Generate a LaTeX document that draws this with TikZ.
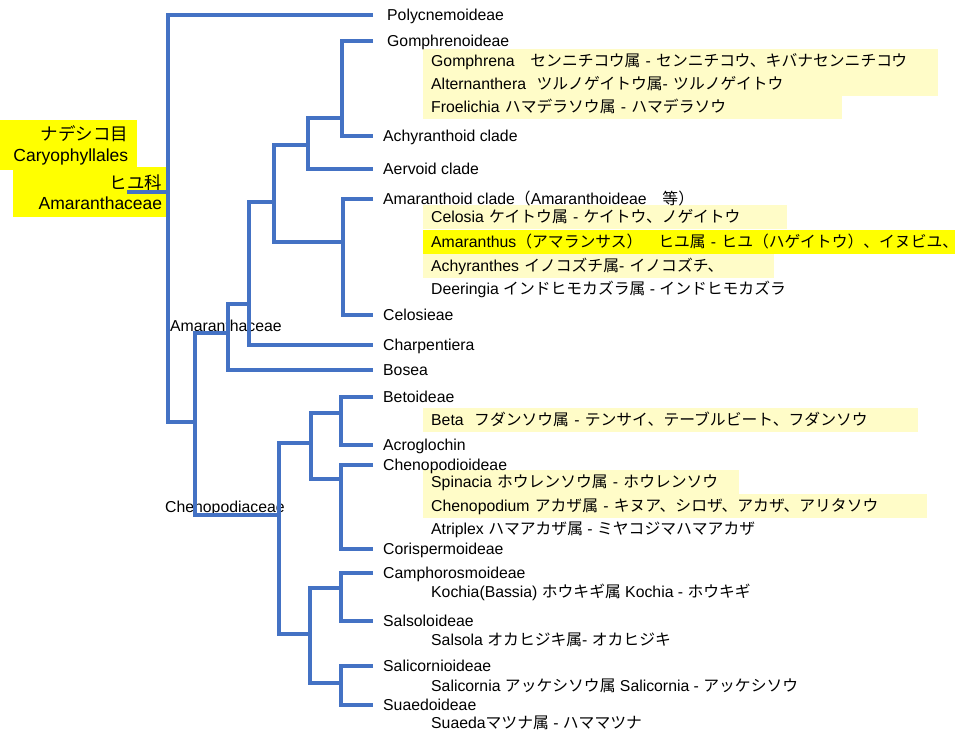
\documentclass[tikz,border=0pt]{standalone}
\usepackage{fontspec}
\setmainfont{Liberation Sans}
\newfontfamily\jpfont{Noto Sans CJK JP}
\newcommand{\jtxt}[1]{{\jpfont #1}}
\definecolor{clade}{HTML}{4472C4}
\definecolor{hilite}{HTML}{FFFCC8}
\definecolor{hiyel}{HTML}{FFFF00}

\begin{document}
\begin{tikzpicture}[x=1pt,y=-1pt]
  \tikzstyle{branch} = [draw=clade, line width=3.2pt]
  \tikzstyle{taxon} = [anchor=west, inner xsep=10pt, inner ysep=0pt, text height=11.5pt, text depth=0.5pt, font=\fontsize{15.8}{18}\selectfont]
  \tikzstyle{genus} = [taxon, inner xsep=8pt, inner ysep=6pt, align=left]
  \tikzstyle{pale} = [genus, fill=hilite]
  \tikzstyle{bright} = [genus, fill=hiyel]
  \tikzstyle{family} = [taxon, inner xsep=0pt]
  \tikzstyle{rank} = [anchor=north west, fill=hiyel, inner ysep=0pt, minimum height=50pt, align=right, font=\fontsize{17.5}{20.5}\selectfont]
  \useasboundingbox (0,0) rectangle (966,745);

  \node[rank, text width=119pt, inner xsep=9pt] (order) at (0,120) {\jtxt{ナデシコ目}\\Caryophyllales};
  \node[rank, text width=141pt, inner xsep=8pt] (fam) at (13,167) {\jtxt{ヒユ科}\\Amaranthaceae};

  \node[pale, text width=499pt] (gomphrena) at (423,61) {Gomphrena\jtxt{　センニチコウ属} - \jtxt{センニチコウ、キバナセンニチコウ}};
  \node[pale, text width=499pt] (alternanthera) at (423,84) {Alternanthera\ \ \jtxt{ツルノゲイトウ属}- \jtxt{ツルノゲイトウ}};
  \node[pale, text width=403pt] (froelichia) at (423,107) {Froelichia \jtxt{ハマデラソウ属} - \jtxt{ハマデラソウ}};
  \node[pale, text width=348pt] (celosia) at (423,217) {Celosia \jtxt{ケイトウ属} - \jtxt{ケイトウ、ノゲイトウ}};
  \node[bright, text width=516pt] (amaranthus) at (423,242) {\mbox{Amaranthus\jtxt{（アマランサス）　ヒユ属} - \jtxt{ヒユ（ハゲイトウ）、イヌビユ、}}};
  \node[pale, text width=335pt] (achyranthes) at (423,266) {Achyranthes \jtxt{イノコズチ属}- \jtxt{イノコズチ、}};
  \node[genus] (deeringia) at (423,289) {Deeringia \jtxt{インドヒモカズラ属} - \jtxt{インドヒモカズラ}};
  \node[pale, text width=479pt] (beta) at (423,420) {Beta\ \ \jtxt{フダンソウ属} - \jtxt{テンサイ、テーブルビート、フダンソウ}};
  \node[pale, text width=300pt] (spinacia) at (423,482) {Spinacia \jtxt{ホウレンソウ属} - \jtxt{ホウレンソウ}};
  \node[pale, text width=488pt] (chenopodium) at (423,506) {Chenopodium \jtxt{アカザ属} - \jtxt{キヌア、シロザ、アカザ、アリタソウ}};
  \node[genus] (atriplex) at (423,529) {Atriplex \jtxt{ハマアカザ属} - \jtxt{ミヤコジマハマアカザ}};
  \node[genus] (kochia) at (423,592) {Kochia(Bassia) \jtxt{ホウキギ属} Kochia - \jtxt{ホウキギ}};
  \node[genus] (salsola) at (423,640) {Salsola \jtxt{オカヒジキ属}- \jtxt{オカヒジキ}};
  \node[genus] (salicornia) at (423,686) {Salicornia \jtxt{アッケシソウ属} Salicornia - \jtxt{アッケシソウ}};
  \node[genus] (suaeda) at (423,723) {Suaeda\jtxt{マツナ属} - \jtxt{ハママツナ}};

  \node[taxon, inner xsep=14pt] (polyc) at (373,15) {Polycnemoideae};
  \node[taxon, inner xsep=14pt] (gomphr) at (373,41) {Gomphrenoideae};
  \node[taxon] (achyc) at (373,136) {Achyranthoid clade};
  \node[taxon] (aerv) at (373,169) {Aervoid clade};
  \node[taxon] (amthc) at (373,199) {Amaranthoid clade\jtxt{（}Amaranthoideae\jtxt{　等）}};
  \node[taxon] (celos) at (373,315) {Celosieae};
  \node[taxon] (charp) at (373,345) {Charpentiera};
  \node[taxon] (bosea) at (373,370) {Bosea};
  \node[taxon] (betoi) at (373,397) {Betoideae};
  \node[taxon] (acrog) at (373,445) {Acroglochin};
  \node[taxon] (cheno) at (373,465) {Chenopodioideae};
  \node[taxon] (corisp) at (373,549) {Corispermoideae};
  \node[taxon] (camph) at (373,573) {Camphorosmoideae};
  \node[taxon] (salso) at (373,621) {Salsoloideae};
  \node[taxon] (salic) at (373,666) {Salicornioideae};
  \node[taxon] (suaed) at (373,705) {Suaedoideae};

  \node[family] (amarlab) at (170,326) {Amaranthaceae};
  \node[family] (chenlab) at (165,507) {Chenopodiaceae};

  \coordinate (root) at (168,192);
  \coordinate (stem) at (127,192);
  \coordinate (core) at (195,422);
  \coordinate (amar) at (228,333);
  \coordinate (amarA) at (249,304);
  \coordinate (amarB) at (274,202);
  \coordinate (amarC) at (308,145);
  \coordinate (gompC) at (342,118);
  \coordinate (amthC) at (343,242);
  \coordinate (chen) at (279,515);
  \coordinate (chenA) at (311,443);
  \coordinate (betC) at (341,413);
  \coordinate (chenC) at (341,479);
  \coordinate (chenB) at (310,634);
  \coordinate (camC) at (341,588);
  \coordinate (salC) at (341,683);

  \draw[branch] (polyc.west) -| (root) |- (core);
  \draw[branch] (root) -- (stem);
  \draw[branch] (amar) -| (core) |- (chen);
  \draw[branch] (amarA) -| (amar) |- (bosea.west);
  \draw[branch] (amarB) -| (amarA) |- (charp.west);
  \draw[branch] (amarC) -| (amarB) |- (amthC);
  \draw[branch] (gompC) -| (amarC) |- (aerv.west);
  \draw[branch] (gomphr.west) -| (gompC) |- (achyc.west);
  \draw[branch] (amthc.west) -| (amthC) |- (celos.west);
  \draw[branch] (chenA) -| (chen) |- (chenB);
  \draw[branch] (betC) -| (chenA) |- (chenC);
  \draw[branch] (betoi.west) -| (betC) |- (acrog.west);
  \draw[branch] (cheno.west) -| (chenC) |- (corisp.west);
  \draw[branch] (camC) -| (chenB) |- (salC);
  \draw[branch] (camph.west) -| (camC) |- (salso.west);
  \draw[branch] (salic.west) -| (salC) |- (suaed.west);
\end{tikzpicture}
\end{document}
